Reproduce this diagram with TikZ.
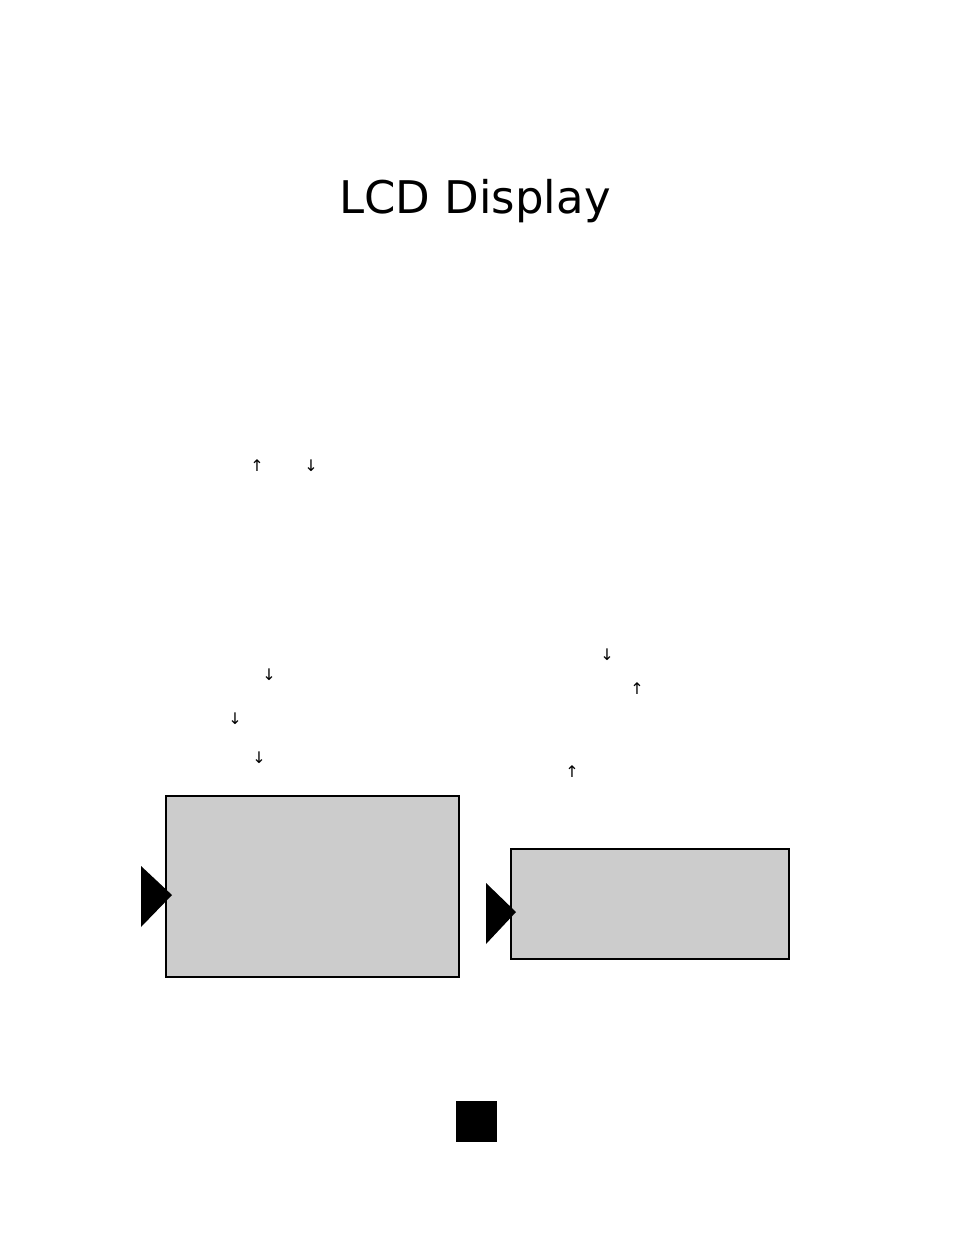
\documentclass[tikz,border=0pt]{standalone}
\usepackage{fontspec}
\setmainfont{DejaVu Sans}
\definecolor{lcdgray}{HTML}{CCCCCC}
\begin{document}
\begin{tikzpicture}[x=1pt,y=-1pt,
	lcdbox/.style={draw=black,fill=lcdgray,line width=2pt,outer sep=0pt},
	marker/.style={fill=black},
	arrowmark/.style={inner sep=0pt,font=\fontsize{16}{16}\selectfont}]
\useasboundingbox (0,0) rectangle (954,1235);
\node[font=\fontsize{45}{45}\selectfont,anchor=base] (title) at (475,213) {LCD Display};

\def\upmark#1#2{% {имя}{точка}
	\node[arrowmark] (#1) at (#2) {↑}
}
\def\downmark#1#2{% {имя}{точка}
	\node[arrowmark] (#1) at (#2) {↓}
}

\upmark{up1}{257,466};
\downmark{down1}{311,466};
\downmark{down2}{269,675};
\downmark{down3}{235,719};
\downmark{down4}{259,758};
\downmark{down5}{607,655};
\upmark{up2}{637,689};
\upmark{up3}{572,772};

\node[lcdbox,minimum width=293pt,minimum height=181pt,anchor=north west] (screen1) at (166,796) {};
\node[lcdbox,line width=1.8pt,minimum width=278pt,minimum height=110pt,anchor=north west] (screen2) at (511,849) {};

\fill[marker] (141,866) -- (141,927) -- (172,895) -- cycle;
\fill[marker] (486,883) -- (486,944) -- (516,912) -- cycle;

\fill (456,1101) rectangle (497,1142);
\end{tikzpicture}
\end{document}
